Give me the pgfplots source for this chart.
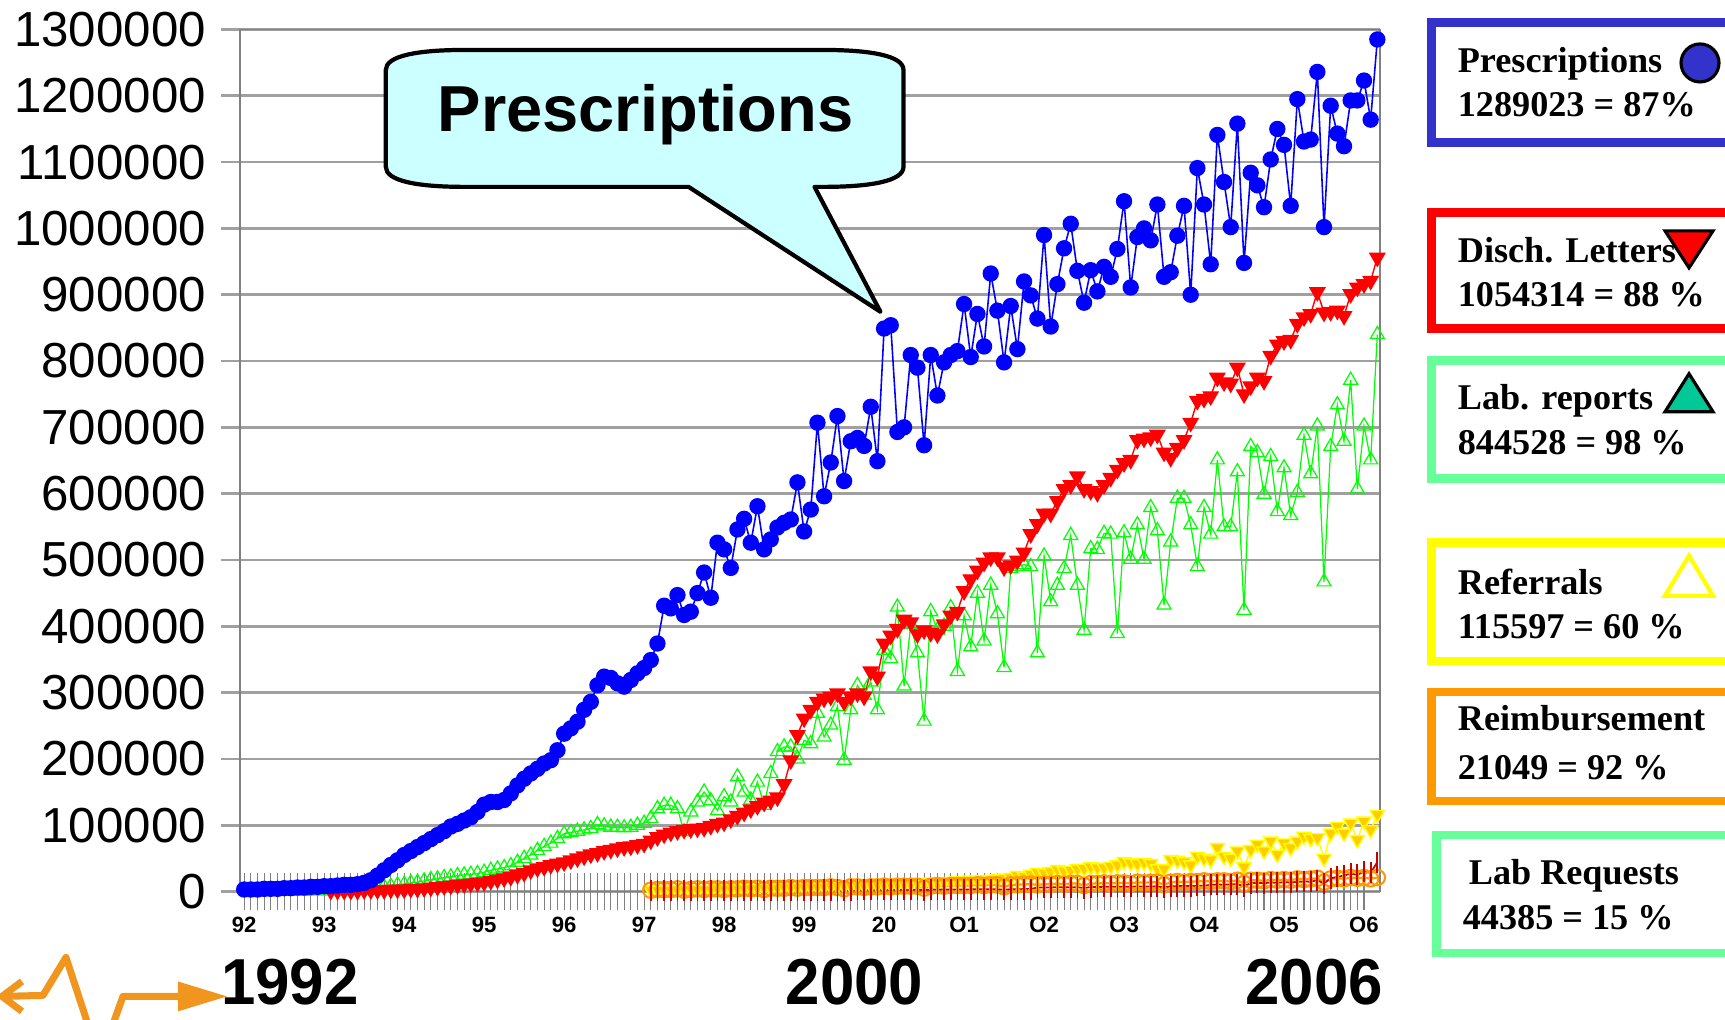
\documentclass[border=0pt]{standalone}
\usepackage{graphicx}
\usepackage{pgfplots}
\pgfplotsset{compat=1.18}
\usepackage{fontspec}
\setmainfont{Liberation Sans}
\newfontfamily\lserif{Liberation Serif}
\definecolor{gridgray}{RGB}{160,160,160}
\definecolor{pblue}{RGB}{0,0,255}
\definecolor{dred}{RGB}{255,0,0}
\definecolor{lgreen}{RGB}{0,255,0}
\definecolor{refy}{RGB}{255,204,0}
\definecolor{refyl}{RGB}{255,255,0}
\definecolor{reimb}{RGB}{255,153,0}
\definecolor{labreq}{RGB}{200,0,0}
\definecolor{legblue}{RGB}{51,51,204}
\definecolor{leggreen}{RGB}{102,255,153}
\definecolor{teal2}{RGB}{0,200,150}
\definecolor{bubble}{RGB}{204,255,255}
\definecolor{logoor}{RGB}{240,150,30}
\begin{document}
\begin{tikzpicture}
\useasboundingbox (0,0) rectangle (17.25cm,-10.2cm);
\begin{axis}[
  at={(2.40cm,-8.915cm)}, anchor=south west,
  width=11.40cm, height=8.62cm, scale only axis,
  xmin=-0.63, xmax=170.4, ymin=0, ymax=1300000,
  scaled y ticks=false,
  xtick={0,12,...,168},
  xticklabels={92,93,94,95,96,97,98,99,20,O1,O2,O3,O4,O5,O6},
  minor x tick num=11,
  ytick={0,100000,...,1300000},
  yticklabels={0,100000,200000,300000,400000,500000,600000,700000,800000,900000,1000000,1100000,1200000,1300000},
  ymajorgrids,
  grid style={gridgray, line width=0.75pt},
  tick align=center, tick pos=left,
  major tick length=0.37cm, minor tick length=0.37cm,
  ytick style={gridgray, line width=0.75pt},
  xtick style={gray, line width=0.3pt},
  minor tick style={gray, line width=0.3pt},
  x axis line style={gridgray, line width=0.75pt},
  y axis line style={gray, line width=0.4pt},
  yticklabel style={font=\fontsize{14}{16}\selectfont, anchor=east, inner sep=0pt, xshift=-0.15cm},
  xticklabel style={font=\bfseries\fontsize{6.3}{7}\selectfont, anchor=north, inner sep=0pt, yshift=-0.06cm},
]
% Referrals
\addplot[refyl, line width=0.4pt, mark=triangle*, mark size=2.3pt, mark options={rotate=180, fill=refy, draw=refyl}] coordinates {
(61,2000)(62,2000)(63,2000)(64,2000)(65,3000)(66,3000)(67,3000)(68,3000)(69,3000)(70,3000)(71,4000)(72,4000)(73,4000)(74,4000)(75,4000)(76,5000)(77,5000)(78,5000)(79,5000)(80,5000)(81,6000)(82,6000)(83,6000)(84,6000)(85,7000)(86,7000)(87,7000)(88,8000)(89,8000)(90,8000)(91,9000)(92,9000)(93,9000)(94,10000)(95,10000)(96,10000)(97,11000)(98,11000)(99,12000)(100,12000)(101,13000)(102,13000)(103,14000)(104,14000)(105,15000)(106,15000)(107,16000)(108,16000)(109,17000)(110,17000)(111,18000)(112,18000)(113,19000)(114,20000)(115,21000)(116,24000)(117,23000)(118,26000)(119,29000)(120,28000)(121,30000)(122,33000)(123,31000)(124,32000)(125,34000)(126,35000)(127,37000)(128,36000)(129,36000)(130,38000)(131,40000)(132,45000)(133,43000)(134,42000)(135,44000)(136,42000)(137,34000)(138,34000)(139,48000)(140,47000)(141,45000)(142,40000)(143,53000)(144,50000)(145,48000)(146,66000)(147,53000)(148,50000)(149,61000)(150,37000)(151,63000)(152,71000)(153,61000)(154,76000)(155,56000)(156,73000)(157,66000)(158,76000)(159,83000)(160,80000)(161,81000)(162,50000)(163,88000)(164,98000)(165,88000)(166,103000)(167,78000)(168,106000)(169,93000)(170,116000)};
% Reimbursement
\addplot[reimb, line width=0.6pt, mark=o, mark size=2.2pt] coordinates {
(61,2000)(62,3000)(63,3000)(64,3000)(65,4000)(66,2000)(67,3000)(68,4000)(69,3000)(70,4000)(71,4000)(72,3000)(73,4000)(74,4000)(75,5000)(76,4000)(77,5000)(78,3000)(79,5000)(80,5000)(81,5000)(82,6000)(83,5000)(84,6000)(85,6000)(86,6000)(87,6000)(88,7000)(89,6000)(90,4000)(91,7000)(92,7000)(93,6000)(94,7000)(95,7000)(96,8000)(97,7000)(98,8000)(99,8000)(100,8000)(101,8000)(102,5000)(103,8000)(104,9000)(105,8000)(106,9000)(107,9000)(108,9000)(109,9000)(110,10000)(111,9000)(112,10000)(113,10000)(114,7000)(115,10000)(116,10000)(117,11000)(118,11000)(119,10000)(120,11000)(121,11000)(122,12000)(123,11000)(124,12000)(125,12000)(126,9000)(127,12000)(128,12000)(129,13000)(130,12000)(131,13000)(132,13000)(133,12000)(134,14000)(135,13000)(136,14000)(137,14000)(138,10000)(139,14000)(140,15000)(141,14000)(142,15000)(143,15000)(144,16000)(145,15000)(146,16000)(147,16000)(148,15000)(149,17000)(150,12000)(151,17000)(152,17000)(153,16000)(154,18000)(155,17000)(156,18000)(157,17000)(158,19000)(159,18000)(160,19000)(161,20000)(162,14000)(163,19000)(164,20000)(165,19000)(166,21000)(167,20000)(168,21000)(169,19000)(170,21049)};
% Lab Requests
\addplot[labreq, line width=0.5pt, mark=|, mark size=3pt] coordinates {
(61,1000)(62,1100)(63,1200)(64,1200)(65,1300)(66,900)(67,1300)(68,1400)(69,1400)(70,1500)(71,1500)(72,1500)(73,1600)(74,1600)(75,1700)(76,1700)(77,1800)(78,1200)(79,1800)(80,1900)(81,1900)(82,2000)(83,2000)(84,2000)(85,2100)(86,2100)(87,2200)(88,2200)(89,2300)(90,1600)(91,2300)(92,2400)(93,2400)(94,2500)(95,2500)(96,2600)(97,2600)(98,2700)(99,2700)(100,2800)(101,2800)(102,2000)(103,2900)(104,2900)(105,3000)(106,3000)(107,3100)(108,3100)(109,3200)(110,3200)(111,3300)(112,3300)(113,3400)(114,2500)(115,3500)(116,3500)(117,3600)(118,3600)(119,6000)(120,6200)(121,6100)(122,6400)(123,6300)(124,6500)(125,6600)(126,5000)(127,6800)(128,6900)(129,7000)(130,7100)(131,7000)(132,7300)(133,7200)(134,7500)(135,7400)(136,7600)(137,7800)(138,5800)(139,8000)(140,8100)(141,8300)(142,8200)(143,8500)(144,8600)(145,10000)(146,10500)(147,10200)(148,10800)(149,11000)(150,8000)(151,12500)(152,13000)(153,12600)(154,13500)(155,13200)(156,14000)(157,13600)(158,14500)(159,15000)(160,14800)(161,17000)(162,12000)(163,20000)(164,22000)(165,24000)(166,27000)(167,25000)(168,30000)(169,28000)(170,44385)};
% Lab reports
\addplot[lgreen, line width=0.35pt, mark=triangle, mark size=2.3pt] coordinates {
(8,500)(9,500)(10,1000)(11,1000)(12,1000)(13,1000)(14,1500)(15,1500)(16,2000)(17,2000)(18,2500)(19,4000)(20,5000)(21,7000)(22,8000)(23,10000)(24,11000)(25,13000)(26,14000)(27,16000)(28,18000)(29,19000)(30,21000)(31,22000)(32,24000)(33,25000)(34,26000)(35,27000)(36,29000)(37,32000)(38,34000)(39,36000)(40,39000)(41,44000)(42,50000)(43,55000)(44,62000)(45,68000)(46,73000)(47,80000)(48,87000)(49,89000)(50,91000)(51,93000)(52,95000)(53,101000)(54,99000)(55,97000)(56,97000)(57,96000)(58,97000)(59,100000)(60,103000)(61,110000)(62,125000)(63,130000)(64,130000)(65,125000)(66,90000)(67,120000)(68,135000)(69,150000)(70,137000)(71,122000)(72,143000)(73,135000)(74,173000)(75,150000)(76,138000)(77,165000)(78,130000)(79,178000)(80,211000)(81,218000)(82,218000)(83,200000)(84,228000)(85,223000)(86,269000)(87,233000)(88,251000)(89,279000)(90,198000)(91,274000)(92,311000)(93,296000)(94,316000)(95,274000)(96,364000)(97,351000)(98,429000)(99,310000)(100,403000)(101,360000)(102,257000)(103,422000)(104,394000)(105,400000)(106,428000)(107,332000)(108,416000)(109,369000)(110,450000)(111,378000)(112,462000)(113,419000)(114,338000)(115,487000)(116,490000)(117,493000)(118,490000)(119,360000)(120,506000)(121,437000)(122,462000)(123,487000)(124,537000)(125,462000)(126,394000)(127,517000)(128,516000)(129,540000)(130,539000)(131,389000)(132,541000)(133,501000)(134,553000)(135,501000)(136,579000)(137,544000)(138,432000)(139,527000)(140,593000)(141,593000)(142,553000)(143,490000)(144,579000)(145,539000)(146,651000)(147,550000)(148,550000)(149,633000)(150,424000)(151,671000)(152,662000)(153,599000)(154,656000)(155,573000)(156,639000)(157,567000)(158,602000)(159,688000)(160,630000)(161,702000)(162,467000)(163,671000)(164,734000)(165,679000)(166,771000)(167,607000)(168,702000)(169,651000)(170,840000)};
% Disch. Letters
\addplot[dred, line width=0.4pt, mark=triangle*, mark size=2.4pt, mark options={rotate=180}] coordinates {
(13,1000)(14,1000)(15,1000)(16,1000)(17,1000)(18,2000)(19,2000)(20,2000)(21,2000)(22,3000)(23,3000)(24,3000)(25,4000)(26,4000)(27,5000)(28,6000)(29,7000)(30,8000)(31,9000)(32,10000)(33,11000)(34,12000)(35,13000)(36,14000)(37,16000)(38,18000)(39,20000)(40,22000)(41,25000)(42,28000)(43,32000)(44,35000)(45,37000)(46,40000)(47,42000)(48,44000)(49,47000)(50,50000)(51,53000)(52,56000)(53,58000)(54,61000)(55,63000)(56,65000)(57,67000)(58,68000)(59,70000)(60,72000)(61,77000)(62,82000)(63,86000)(64,89000)(65,91000)(66,93000)(67,94000)(68,95000)(69,96000)(70,99000)(71,102000)(72,104000)(73,109000)(74,114000)(75,119000)(76,124000)(77,129000)(78,134000)(79,137000)(80,142000)(81,162000)(82,198000)(83,236000)(84,261000)(85,274000)(86,286000)(87,291000)(88,294000)(89,299000)(90,286000)(91,294000)(92,299000)(93,294000)(94,332000)(95,324000)(96,374000)(97,386000)(98,396000)(99,410000)(100,406000)(101,388000)(102,394000)(103,390000)(104,388000)(105,403000)(106,416000)(107,422000)(108,453000)(109,471000)(110,484000)(111,496000)(112,504000)(113,504000)(114,489000)(115,492000)(116,499000)(117,511000)(118,539000)(119,554000)(120,570000)(121,570000)(122,589000)(123,607000)(124,613000)(125,626000)(126,607000)(127,604000)(128,601000)(129,613000)(130,624000)(131,636000)(132,646000)(133,651000)(134,681000)(135,683000)(136,685000)(137,689000)(138,662000)(139,654000)(140,669000)(141,681000)(142,707000)(143,740000)(144,743000)(145,747000)(146,775000)(147,768000)(148,766000)(149,790000)(150,750000)(151,762000)(152,775000)(153,770000)(154,808000)(155,825000)(156,830000)(157,832000)(158,856000)(159,866000)(160,871000)(161,904000)(162,873000)(163,874000)(164,876000)(165,868000)(166,901000)(167,911000)(168,916000)(169,921000)(170,956000)};
% Prescriptions
\addplot[pblue, line width=0.45pt, mark=*, mark size=2.1pt] coordinates {
(0,3000)(1,3000)(2,3000)(3,4000)(4,4000)(5,4000)(6,5000)(7,5000)(8,6000)(9,6000)(10,7000)(11,7000)(12,8000)(13,8000)(14,9000)(15,10000)(16,10000)(17,11000)(18,13000)(19,17000)(20,24000)(21,32000)(22,40000)(23,47000)(24,55000)(25,61000)(26,67000)(27,73000)(28,79000)(29,85000)(30,91000)(31,98000)(32,102000)(33,107000)(34,112000)(35,120000)(36,131000)(37,135000)(38,135000)(39,138000)(40,148000)(41,160000)(42,170000)(43,178000)(44,185000)(45,193000)(46,198000)(47,213000)(48,238000)(49,246000)(50,256000)(51,274000)(52,286000)(53,311000)(54,324000)(55,322000)(56,314000)(57,309000)(58,319000)(59,329000)(60,337000)(61,349000)(62,374000)(63,431000)(64,427000)(65,447000)(66,417000)(67,422000)(68,450000)(69,481000)(70,443000)(71,526000)(72,516000)(73,488000)(74,546000)(75,562000)(76,526000)(77,581000)(78,516000)(79,531000)(80,549000)(81,556000)(82,561000)(83,617000)(84,543000)(85,576000)(86,707000)(87,596000)(88,647000)(89,717000)(90,619000)(91,679000)(92,684000)(93,672000)(94,731000)(95,649000)(96,849000)(97,854000)(98,693000)(99,700000)(100,809000)(101,790000)(102,673000)(103,809000)(104,748000)(105,798000)(106,809000)(107,815000)(108,886000)(109,806000)(110,871000)(111,822000)(112,932000)(113,876000)(114,798000)(115,883000)(116,818000)(117,920000)(118,899000)(119,864000)(120,990000)(121,852000)(122,916000)(123,970000)(124,1007000)(125,936000)(126,888000)(127,937000)(128,905000)(129,942000)(130,927000)(131,969000)(132,1041000)(133,911000)(134,987000)(135,1000000)(136,982000)(137,1036000)(138,927000)(139,934000)(140,989000)(141,1034000)(142,900000)(143,1091000)(144,1036000)(145,946000)(146,1141000)(147,1070000)(148,1002000)(149,1158000)(150,948000)(151,1084000)(152,1065000)(153,1032000)(154,1104000)(155,1150000)(156,1126000)(157,1034000)(158,1195000)(159,1131000)(160,1134000)(161,1236000)(162,1002000)(163,1185000)(164,1143000)(165,1124000)(166,1193000)(167,1193000)(168,1223000)(169,1164000)(170,1285000)};
\end{axis}
\begin{scope}[x=0.01cm,y=-0.01cm]
% callout
\draw[line width=1.2pt, fill=bubble, line join=round] (465,50) -- (824,50) .. controls (872,50) and (904,56) .. (904,70) -- (904,167) .. controls (904,181) and (872,187) .. (824,187) -- (815,187) -- (881,312) -- (689,187) -- (465,187) .. controls (417,187) and (386,181) .. (386,167) -- (386,70) .. controls (386,56) and (417,50) .. (465,50) -- cycle;
\node[font=\bfseries\fontsize{18.5}{20}\selectfont, anchor=base, inner sep=0pt] at (646,132) {Prescriptions};
% legend boxes
\draw[legblue, line width=2.5pt] (1432.5,22.5) rectangle (1770,142.5);
\draw[dred, line width=2.5pt] (1432.5,212.5) rectangle (1770,328.5);
\draw[leggreen, line width=2.5pt] (1432.5,360.5) rectangle (1770,478.5);
\draw[refyl, line width=2.5pt] (1432.5,542.5) rectangle (1770,661.5);
\draw[reimb, line width=2.5pt] (1432.5,692.5) rectangle (1770,801.5);
\draw[leggreen, line width=2.5pt] (1437.5,835.5) rectangle (1770,953.5);
\begin{scope}[every node/.style={anchor=base west, inner sep=0pt, font=\lserif\bfseries\fontsize{10.3}{12}\selectfont}]
\node at (1458,73) {Prescriptions};
\node at (1458,117) {1289023 = 87\%};
\node at (1458,263) {Disch. Letters};
\node at (1458,307) {1054314 = 88 \%};
\node at (1458,410) {Lab. reports};
\node at (1458,455) {844528 = 98 \%};
\node at (1458,595) {Referrals};
\node at (1458,639) {115597 = 60 \%};
\node at (1458,731) {Reimbursement};
\node at (1458,780) {21049 = 92 \%};
\node at (1469,885) {Lab Requests};
\node at (1463,930) {44385 = 15 \%};
\end{scope}
% legend symbols
\draw[black, line width=0.9pt, fill=legblue] (1701,63) circle (19);
\draw[black, line width=0.9pt, fill=dred, line join=miter] (1666,231) -- (1714,231) -- (1690,268) -- cycle;
\draw[black, line width=0.9pt, fill=teal2, line join=miter] (1666,412) -- (1714,412) -- (1690,374) -- cycle;
\draw[refyl, line width=1.2pt, fill=white, line join=miter] (1666,596) -- (1714,596) -- (1690,556) -- cycle;
% bottom year labels
\begin{scope}[every node/.style={anchor=base, inner sep=0pt, font=\bfseries\fontsize{18.5}{20}\selectfont}]
\node at (290,1005) {\scalebox{0.95}[1]{1992}};
\node at (855,1005) {\scalebox{0.95}[1]{2000}};
\node at (1315,1005) {\scalebox{0.95}[1]{2006}};
\end{scope}
% logo
\draw[logoor, line width=2pt, line join=round] (2,997) -- (43,996) -- (66,958) -- (88,1025);
\draw[logoor, line width=2pt, line join=round] (22,982) -- (2,997) -- (22,1012);
\draw[logoor, line width=2pt, line join=round] (113,1025) -- (123,997) -- (185,997);
\fill[logoor] (178,982) -- (227,997) -- (178,1012) -- cycle;
\end{scope}
\end{tikzpicture}
\end{document}
